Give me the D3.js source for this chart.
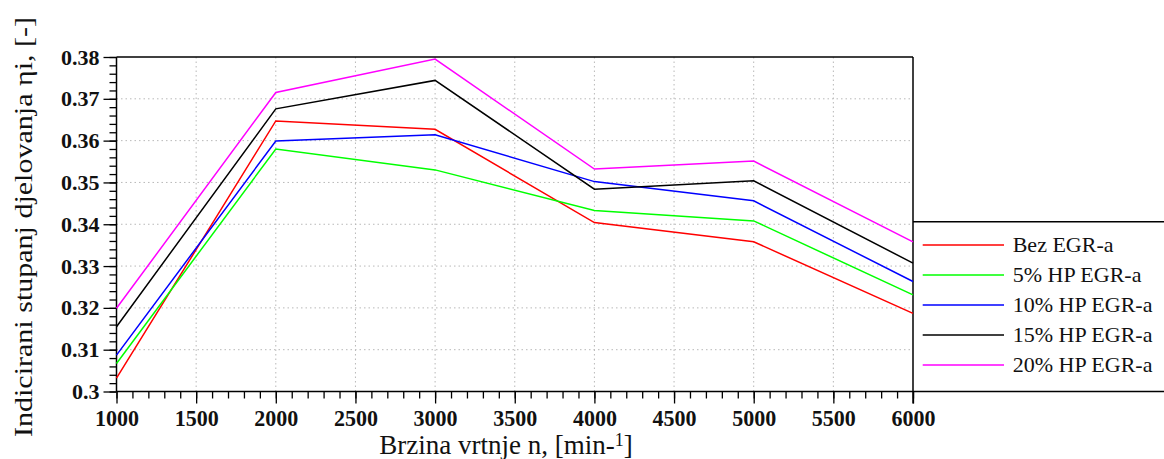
<!DOCTYPE html>
<html>
<head>
<meta charset="utf-8">
<script src="https://cdn.jsdelivr.net/npm/d3@7"></script>
<style>
  body { margin: 0; background: #fff; }
  svg { display: block; }
  .tickLb { font-family: "Liberation Serif", "Times New Roman", serif; font-weight: bold; fill: #111; }
  .axisLb { font-family: "Liberation Serif", "Times New Roman", serif; fill: #111; }
  .legLb { font-family: "Liberation Serif", "Times New Roman", serif; font-size: 22px; fill: #111; }
</style>
</head>
<body>
<div id="main"></div>
<script>
// engine speed, min-1
const speeds = [1000, 2000, 3000, 4000, 5000, 6000];
// indicated efficiency for each EGR case
const bezEgr  = [0.3032, 0.3647, 0.3627, 0.3404, 0.3358, 0.3187];
const egr5    = [0.3067, 0.3580, 0.3530, 0.3433, 0.3408, 0.3231];
const egr10   = [0.3087, 0.3599, 0.3614, 0.3502, 0.3456, 0.3263];
const egr15   = [0.3155, 0.3676, 0.3744, 0.3484, 0.3504, 0.3307];
const egr20   = [0.3199, 0.3715, 0.3795, 0.3532, 0.3551, 0.3358];
const seriesNames  = ["Bez EGR-a", "5% HP EGR-a", "10% HP EGR-a", "15% HP EGR-a", "20% HP EGR-a"];
const seriesColors = ["#ff0000", "#00ff00", "#0000ff", "#000000", "#ff00ff"];
const xTicks = [1000, 1500, 2000, 2500, 3000, 3500, 4000, 4500, 5000, 5500, 6000];
const yTicks = [0.30, 0.31, 0.32, 0.33, 0.34, 0.35, 0.36, 0.37, 0.38];

const SERIF = '"Liberation Serif", "Times New Roman", serif';

const ctx = {
    w: 1164,
    h: 459,
    left: 116.5, right: 913, top: 57, bottom: 391.5,
};

function createViz(){
    let svgEl = d3.select("#main").append("svg")
        .attr("width", ctx.w).attr("height", ctx.h);

    ctx.xScale = d3.scaleLinear().domain([1000, 6000]).range([ctx.left, ctx.right]);
    ctx.yScale = d3.scaleLinear().domain([0.30, 0.38]).range([ctx.bottom, ctx.top]);

    // dotted grid
    let grid = svgEl.append("g");
    grid.selectAll("line.vg")
        .data(xTicks.slice(1, -1))
        .enter().append("line")
        .attr("x1", d => ctx.xScale(d)).attr("x2", d => ctx.xScale(d))
        .attr("y1", ctx.top).attr("y2", ctx.bottom)
        .attr("stroke", "#b8b8b8").attr("stroke-dasharray", "1.5,3");
    grid.selectAll("line.hg")
        .data(yTicks.slice(1, -1))
        .enter().append("line")
        .attr("y1", d => ctx.yScale(d)).attr("y2", d => ctx.yScale(d))
        .attr("x1", ctx.left).attr("x2", ctx.right)
        .attr("stroke", "#b8b8b8").attr("stroke-dasharray", "1.5,3");

    // minor ticks (no labels)
    let xMinor = d3.range(1000, 6001, 100);
    let yMinor = d3.range(0, 41).map(i => 0.30 + i * 0.002);
    svgEl.append("g")
        .attr("transform", `translate(0,${ctx.bottom})`)
        .call(d3.axisBottom(ctx.xScale).tickValues(xMinor).tickSize(7).tickFormat(""))
        .call(g => g.select(".domain").remove());
    svgEl.append("g")
        .attr("transform", `translate(${ctx.left},0)`)
        .call(d3.axisLeft(ctx.yScale).tickValues(yMinor).tickSize(7).tickFormat(""))
        .call(g => g.select(".domain").remove());

    // major axes
    let xAx = svgEl.append("g")
        .attr("transform", `translate(0,${ctx.bottom})`)
        .call(d3.axisBottom(ctx.xScale).tickValues(xTicks).tickSize(12).tickPadding(5)
              .tickFormat(d3.format("d")));
    xAx.attr("font-family", null).attr("font-size", null);
    xAx.select(".domain").remove();
    xAx.selectAll("text").attr("class", "tickLb")
       .style("font-family", SERIF).style("font-weight", "bold").style("font-size", "24px")
       .attr("textLength", 44).attr("lengthAdjust", "spacingAndGlyphs");
    let yAx = svgEl.append("g")
        .attr("transform", `translate(${ctx.left},0)`)
        .call(d3.axisLeft(ctx.yScale).tickValues(yTicks).tickSize(13).tickPadding(4)
              .tickFormat(d => d === 0.3 ? "0.3" : d3.format(".2f")(d)));
    yAx.attr("font-family", null).attr("font-size", null);
    yAx.select(".domain").remove();
    yAx.selectAll("text").attr("class", "tickLb")
       .style("font-family", SERIF).style("font-weight", "bold").style("font-size", "22px");
    svgEl.selectAll(".tick line").attr("stroke", "#000").attr("stroke-width", 1.3);

    // frame lines
    let frame = svgEl.append("g").attr("stroke", "#000").attr("stroke-width", 1.5);
    frame.append("line").attr("x1", ctx.left).attr("x2", ctx.right)
         .attr("y1", ctx.top).attr("y2", ctx.top);
    frame.append("line").attr("x1", ctx.left).attr("x2", ctx.left)
         .attr("y1", ctx.top).attr("y2", ctx.bottom);
    frame.append("line").attr("x1", ctx.left).attr("x2", ctx.w)
         .attr("y1", ctx.bottom).attr("y2", ctx.bottom);
    frame.append("line").attr("x1", ctx.right).attr("x2", ctx.right)
         .attr("y1", ctx.top).attr("y2", ctx.bottom + 12);

    // series
    const allSeries = [bezEgr, egr5, egr10, egr15, egr20];
    let line = d3.line()
        .x((d, i) => ctx.xScale(speeds[i]))
        .y(d => ctx.yScale(d));
    svgEl.append("g").selectAll("path")
        .data(allSeries)
        .enter().append("path")
        .attr("d", d => line(d))
        .attr("fill", "none")
        .attr("stroke", (d, i) => seriesColors[i])
        .attr("stroke-width", 1.5);

    // legend
    let leg = svgEl.append("g");
    leg.append("line").attr("x1", ctx.right).attr("x2", ctx.w)
       .attr("y1", 221.7).attr("y2", 221.7)
       .attr("stroke", "#000").attr("stroke-width", 1.5);
    let items = leg.selectAll("g.item")
        .data(seriesNames)
        .enter().append("g")
        .attr("transform", (d, i) => `translate(0,${245 + i * 30})`);
    items.append("line")
        .attr("x1", 922.7).attr("x2", 1004).attr("y1", 0).attr("y2", 0)
        .attr("stroke", (d, i) => seriesColors[i]).attr("stroke-width", 1.5);
    items.append("text")
        .attr("class", "legLb")
        .style("font-family", SERIF)
        .attr("x", 1012.7).attr("y", 7)
        .text(d => d);

    // axis labels
    let xl = svgEl.append("text")
        .attr("class", "axisLb")
        .style("font-family", SERIF)
        .attr("x", 506).attr("y", 454)
        .attr("text-anchor", "middle")
        .style("font-size", "27px");
    xl.append("tspan").text("Brzina vrtnje n, [min-");
    xl.append("tspan").attr("dy", -8).style("font-size", "18px").text("1");
    xl.append("tspan").attr("dy", 8).text("]");

    svgEl.append("text")
        .attr("class", "axisLb")
        .style("font-family", SERIF)
        .attr("transform", "translate(32,227) rotate(-90)")
        .attr("text-anchor", "middle")
        .attr("textLength", 420).attr("lengthAdjust", "spacingAndGlyphs")
        .style("font-size", "26px")
        .text("Indicirani stupanj djelovanja ηi, [-]");
}

createViz();
</script>
</body>
</html>
